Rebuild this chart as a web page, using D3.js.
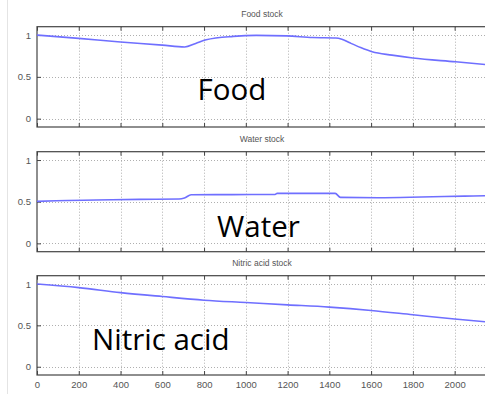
<!DOCTYPE html>
<html><head><meta charset="utf-8">
<script src="https://cdn.jsdelivr.net/npm/d3@7"></script>
<style>html,body{margin:0;padding:0;background:#fff;overflow:hidden}</style>
</head><body>
<svg id="c" width="485" height="394"></svg>
<script>
const titles = ["Food stock", "Water stock", "Nitric acid stock"];
const bigLabels = ["Food", "Water", "Nitric acid"];
const xTicks = [0,200,400,600,800,1000,1200,1400,1600,1800,2000];
const yTicks = [0, 0.5, 1];
const foodX = [0,200,400,600,707,760,810,940,1050,1195,1320,1430,1460,1495,1550,1605,1700,1800,2005,2160];
const foodY = [1.0,0.96,0.917,0.88,0.857,0.9,0.944,0.984,0.996,0.99,0.97,0.965,0.95,0.91,0.85,0.80,0.76,0.725,0.68,0.645];
const waterX = [0,92,283,490,680,706,738,1140,1150,1428,1453,1635,1840,2047,2160];
const waterY = [0.504,0.512,0.52,0.528,0.532,0.544,0.583,0.587,0.6,0.6,0.552,0.548,0.556,0.567,0.571];
const nitricX = [0,200,400,600,800,1000,1200,1400,1600,1800,2000,2160];
const nitricY = [1.0,0.956,0.896,0.848,0.804,0.776,0.748,0.72,0.68,0.628,0.576,0.54];
const seriesX = [foodX, waterX, nitricX];
const seriesY = [foodY, waterY, nitricY];

const svg = d3.select("#c");
const L = 37, R = 487;
const panels = [
  {title:14, top:26.7, bottom:127, lx:232, ly:100, anchor:"middle"},
  {title:138.7, top:151.7, bottom:251.7, lx:258.5, ly:236.5, anchor:"middle"},
  {title:263.3, top:275.7, bottom:375, lx:92, ly:350, anchor:"start"}
];
const x = d3.scaleLinear().domain([0, 2155]).range([L, R]);

svg.append("line").attr("x1",7.5).attr("x2",7.5).attr("y1",0).attr("y2",394).attr("stroke","#e4e4e4");

panels.forEach((p,i) => {
  const y = d3.scaleLinear().domain([-0.1, 1.1]).range([p.bottom, p.top]);
  const g = svg.append("g");
  g.selectAll(".gx").data(xTicks.slice(1)).join("line")
    .attr("x1", d=>Math.round(x(d))+0.5).attr("x2", d=>Math.round(x(d))+0.5)
    .attr("y1", p.top).attr("y2", p.bottom)
    .attr("stroke","#9a9a9a").attr("stroke-width",0.8).attr("stroke-dasharray","1,2");
  g.selectAll(".gy").data(yTicks).join("line")
    .attr("y1", d=>Math.round(y(d))+0.5).attr("y2", d=>Math.round(y(d))+0.5)
    .attr("x1", L).attr("x2", R)
    .attr("stroke","#9a9a9a").attr("stroke-width",0.8).attr("stroke-dasharray","1,2");
  const axB = d3.axisBottom(x).tickValues(xTicks).tickSize(-4).tickPadding(6).tickFormat(i===2 ? d3.format("d") : "");
  const axT = d3.axisTop(x).tickValues(xTicks).tickSize(-4).tickFormat("");
  const axL = d3.axisLeft(y).tickValues(yTicks).tickSize(-4).tickPadding(6).tickFormat(d=>d===0.5?"0.5":d3.format("d")(d));
  const gb = g.append("g").attr("transform",`translate(0,${p.bottom})`).call(axB);
  const gt = g.append("g").attr("transform",`translate(0,${p.top})`).call(axT);
  const gl = g.append("g").attr("transform",`translate(${L},0)`).call(axL);
  [gb,gt,gl].forEach(a => {
    a.select(".domain").remove();
    a.selectAll(".tick line").attr("stroke","#444").attr("stroke-width",1);
    a.selectAll("text").attr("fill","#555").style("font-family","Liberation Sans, Arial, sans-serif").style("font-size","9.5px");
  });
  g.append("rect").attr("x",L).attr("y",p.top).attr("width",R-L).attr("height",p.bottom-p.top)
    .attr("fill","none").attr("stroke","#444").attr("stroke-width",1.2);
  const data = seriesX[i].map((v,k)=>[v, seriesY[i][k]]);
  g.append("path").datum(data)
    .attr("d", d3.line().x(d=>x(d[0])).y(d=>y(d[1])).curve(d3.curveMonotoneX))
    .attr("fill","none").attr("stroke","#6f6fff").attr("stroke-width",1.6);
  svg.append("text").attr("x",262).attr("y",p.title+3).attr("text-anchor","middle")
    .attr("fill","#555").style("font-family","Liberation Sans, Arial, sans-serif").style("font-size","8.5px")
    .text(titles[i]);
  svg.append("text").attr("x",p.lx).attr("y",p.ly).attr("text-anchor",p.anchor)
    .attr("fill","#000").style("font-family","Open Sans, sans-serif").style("font-size","29.5px")
    .text(bigLabels[i]);
});
</script>
</body></html>
